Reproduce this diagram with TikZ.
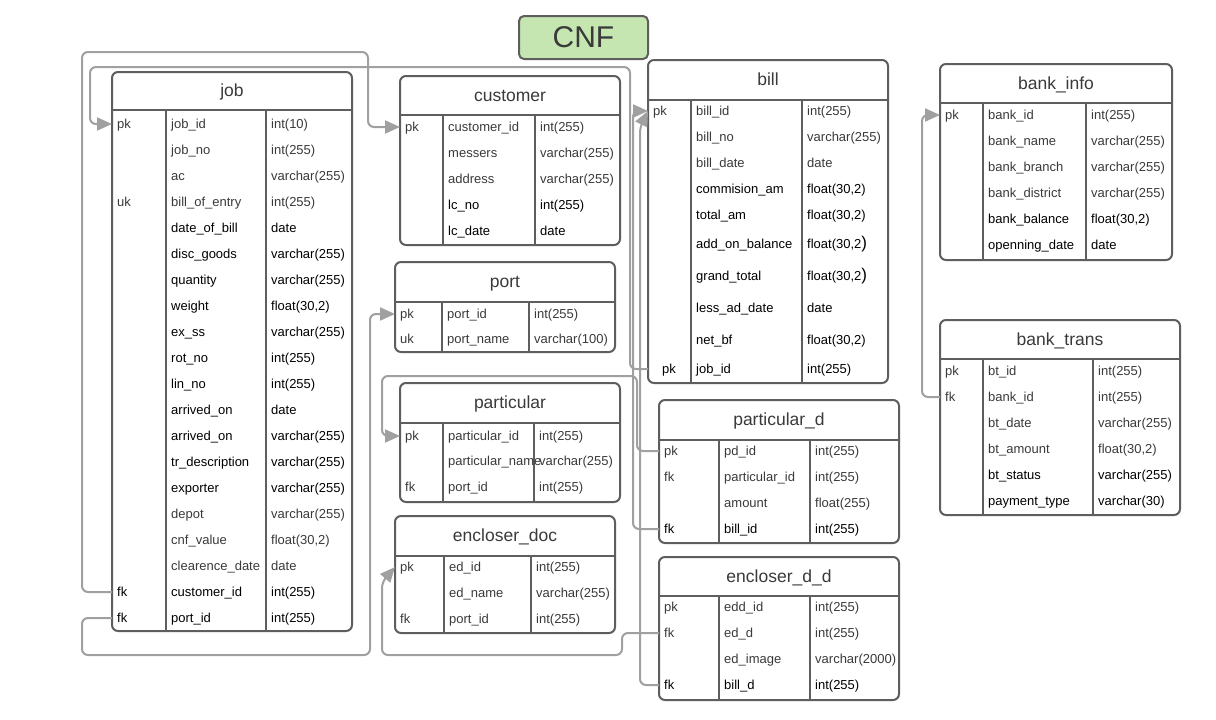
\documentclass[tikz,border=0pt]{standalone}
\usepackage{fontspec}
\setmainfont{Liberation Sans}
\usetikzlibrary{arrows.meta,fit}
\definecolor{frame}{HTML}{5E5E5E}
\definecolor{connc}{HTML}{A0A0A0}
\definecolor{tgray}{HTML}{3A3A3A}
\definecolor{cnfgreen}{HTML}{C5E6B0}
\tikzset{
  tframe/.style={draw=frame, line width=2pt, rounded corners=6pt, fill=white, inner sep=0pt},
  tline/.style={draw=frame, line width=2pt},
  ttitle/.style={anchor=base, inner sep=0pt, text=tgray, font=\fontsize{17.5}{20}\selectfont},
  cell/.style={anchor=base west, inner sep=0pt, font=\fontsize{13}{15}\selectfont},
  conn/.style={draw=connc, line width=2pt, rounded corners=6pt, -{Triangle[length=15pt,width=13pt]}},
}
% #1 id, #2 x1, #3 y1, #4 x2, #5 y2, #6 header bottom, #7 divider 1, #8 divider 2, #9 title
\newcommand\etable[9]{%
  \def\tx{#2}\def\tda{#7}\def\tdb{#8}%
  \coordinate (#1-nw) at (#2,#3);
  \coordinate (#1-se) at (#4,#5);
  \node[tframe, fit=(#1-nw)(#1-se)] (#1) {};
  \draw[tline] (#2,#6) -- (#4,#6) (#7,#6) -- (#7,#5) (#8,#6) -- (#8,#5);
  \node[ttitle] (#1-title) at ({(#2+#4)/2},{(#3+#6)/2+5.5}) {#9};
}
% [#1 colour] #2 id, #3 index, #4 y, #5 key, #6 name, #7 type
\newcommand\erow[7][tgray]{%
  \coordinate (#2-#3) at (\tx,#4);
  \node[cell,text=#1] (#2-#3-k) at (\tx+5,#4+4.5) {#5};
  \node[cell,text=#1] (#2-#3-n) at (\tda+5,#4+4.5) {#6};
  \node[cell,text=#1] (#2-#3-t) at (\tdb+5,#4+4.5) {#7};
}
\newcommand\bigp{{\fontsize{17}{17}\selectfont)}}
\begin{document}
\begin{tikzpicture}[x=1pt,y=-1pt]
\useasboundingbox[fill=white] (0,0) rectangle (1216,720);

% title
\node[draw=frame, line width=2pt, fill=cnfgreen, rounded corners=5pt, minimum width=129pt, minimum height=43pt, inner sep=0pt, text=tgray, font=\fontsize{30}{32}\selectfont] (cnf) at (583.5,37.5) {CNF};

% job
\etable{job}{112}{72}{352}{631}{110}{166}{266}{job}
\erow{job}{1}{124}{pk}{job\_id}{int(10)}
\erow{job}{2}{150}{}{job\_no}{int(255)}
\erow{job}{3}{176}{}{ac}{varchar(255)}
\erow{job}{4}{202}{uk}{bill\_of\_entry}{int(255)}
\erow[black]{job}{5}{228}{}{date\_of\_bill}{date}
\erow[black]{job}{6}{254}{}{disc\_goods}{varchar(255)}
\erow[black]{job}{7}{280}{}{quantity}{varchar(255)}
\erow[black]{job}{8}{306}{}{weight}{float(30,2)}
\erow[black]{job}{9}{332}{}{ex\_ss}{varchar(255)}
\erow[black]{job}{10}{358}{}{rot\_no}{int(255)}
\erow[black]{job}{11}{384}{}{lin\_no}{int(255)}
\erow[black]{job}{12}{410}{}{arrived\_on}{date}
\erow[black]{job}{13}{436}{}{arrived\_on}{varchar(255)}
\erow[black]{job}{14}{462}{}{tr\_description}{varchar(255)}
\erow[black]{job}{15}{488}{}{exporter}{varchar(255)}
\erow{job}{16}{514}{}{depot}{varchar(255)}
\erow{job}{17}{540}{}{cnf\_value}{float(30,2)}
\erow{job}{18}{566}{}{clearence\_date}{date}
\erow[black]{job}{19}{592}{fk}{customer\_id}{int(255)}
\erow[black]{job}{20}{618}{fk}{port\_id}{int(255)}

% customer
\etable{cust}{400}{76}{620}{245}{115}{443}{535}{customer}
\erow{cust}{1}{127}{pk}{customer\_id}{int(255)}
\erow{cust}{2}{153}{}{messers}{varchar(255)}
\erow{cust}{3}{179}{}{address}{varchar(255)}
\erow[black]{cust}{4}{205}{}{lc\_no}{int(255)}
\erow[black]{cust}{5}{231}{}{lc\_date}{date}

% port
\etable{port}{395}{262}{615}{352}{302}{442}{529}{port}
\erow{port}{1}{314}{pk}{port\_id}{int(255)}
\erow{port}{2}{339}{uk}{port\_name}{varchar(100)}

% particular
\etable{part}{400}{383}{620}{502}{423}{443}{534}{particular}
\erow{part}{1}{436}{pk}{particular\_id}{int(255)}
\erow{part}{2}{461}{}{particular\_name}{varchar(255)}
\erow{part}{3}{487}{fk}{port\_id}{int(255)}

% encloser_doc
\etable{ed}{395}{516}{615}{633}{556}{444}{531}{encloser\_doc}
\erow{ed}{1}{567}{pk}{ed\_id}{int(255)}
\erow{ed}{2}{593}{}{ed\_name}{varchar(255)}
\erow{ed}{3}{619}{fk}{port\_id}{int(255)}

% bill
\etable{bill}{648}{60}{888}{383}{100}{691}{802}{bill}
\erow{bill}{1}{111}{pk}{bill\_id}{int(255)}
\erow{bill}{2}{137}{}{bill\_no}{varchar(255)}
\erow{bill}{3}{163}{}{bill\_date}{date}
\erow[black]{bill}{4}{189}{}{commision\_am}{float(30,2)}
\erow[black]{bill}{5}{215}{}{total\_am}{float(30,2)}
\erow[black]{bill}{6}{244}{}{add\_on\_balance}{float(30,2\bigp}
\erow[black]{bill}{7}{276}{}{grand\_total}{float(30,2\bigp}
\erow[black]{bill}{8}{308}{}{less\_ad\_date}{date}
\erow[black]{bill}{9}{340}{}{net\_bf}{float(30,2)}
\erow[black]{bill}{10}{369}{\hspace*{9pt}pk}{job\_id}{int(255)}

% particular_d
\etable{pd}{659}{400}{899}{543}{440}{719}{810}{particular\_d}
\erow{pd}{1}{451}{pk}{pd\_id}{int(255)}
\erow{pd}{2}{477}{fk}{particular\_id}{int(255)}
\erow{pd}{3}{503}{}{amount}{float(255)}
\erow[black]{pd}{4}{529}{fk}{bill\_id}{int(255)}

% encloser_d_d
\etable{edd}{659}{557}{899}{700}{596}{719}{810}{encloser\_d\_d}
\erow{edd}{1}{607}{pk}{edd\_id}{int(255)}
\erow{edd}{2}{633}{fk}{ed\_d}{int(255)}
\erow{edd}{3}{659}{}{ed\_image}{varchar(2000)}
\erow[black]{edd}{4}{685}{fk}{bill\_d}{int(255)}

% bank_info
\etable{bi}{940}{64}{1172}{260}{103}{983}{1086}{bank\_info}
\erow{bi}{1}{115}{pk}{bank\_id}{int(255)}
\erow{bi}{2}{141}{}{bank\_name}{varchar(255)}
\erow{bi}{3}{167}{}{bank\_branch}{varchar(255)}
\erow{bi}{4}{193}{}{bank\_district}{varchar(255)}
\erow[black]{bi}{5}{219}{}{bank\_balance}{float(30,2)}
\erow[black]{bi}{6}{245}{}{openning\_date}{date}

% bank_trans
\etable{bt}{940}{320}{1180}{515}{359}{983}{1093}{bank\_trans}
\erow{bt}{1}{371}{pk}{bt\_id}{int(255)}
\erow{bt}{2}{397}{fk}{bank\_id}{int(255)}
\erow{bt}{3}{423}{}{bt\_date}{varchar(255)}
\erow{bt}{4}{449}{}{bt\_amount}{float(30,2)}
\erow[black]{bt}{5}{475}{}{bt\_status}{varchar(255)}
\erow[black]{bt}{6}{501}{}{payment\_type}{varchar(30)}

% connectors
\draw[conn] (job-19) -| (82,52) -| (368,127) -- (cust-1);
\draw[conn] (bill-10) -| (630,67) -| (90,124) -- (job-1);
\draw[conn] (pd-4) -| (633,111) -- (bill-1);
\draw[conn] (edd-4) -| (640,127) -- (bill-1);
\draw[conn] (pd-1) -| (637,376) -| (382,436) -- (part-1);
\draw[conn] (job-20) -| (82,655) -| (370,314) -- (port-1);
\draw[conn] (edd-2) -| (622,655) -| (382,582) -- (ed-1);
\draw[conn] (bt-2) -| (922,115) -- (bi-1);
\end{tikzpicture}
\end{document}
